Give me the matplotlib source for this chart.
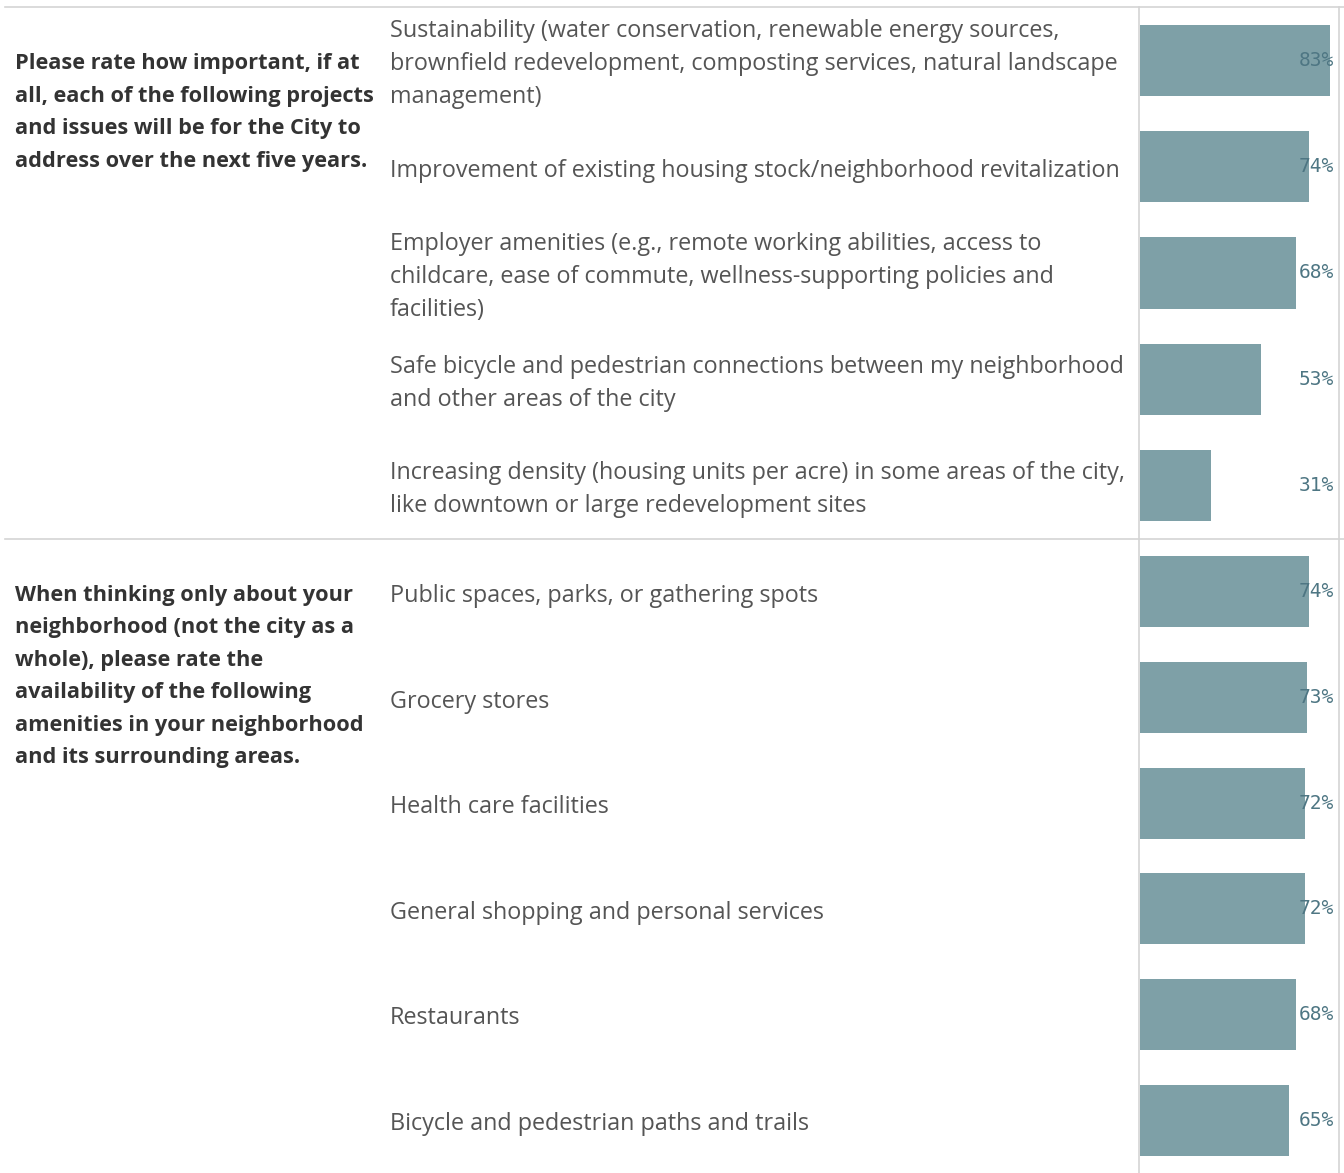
import matplotlib.pyplot as plt
import matplotlib.transforms as mtransforms

# Survey results, two question blocks
question_1 = ("Please rate how important, if at\nall, each of the following projects\n"
              "and issues will be for the City to\naddress over the next five years.")
items_1 = [
    "Sustainability (water conservation, renewable energy sources,\nbrownfield redevelopment, composting services, natural landscape\nmanagement)",
    "Improvement of existing housing stock/neighborhood revitalization",
    "Employer amenities (e.g., remote working abilities, access to\nchildcare, ease of commute, wellness-supporting policies and\nfacilities)",
    "Safe bicycle and pedestrian connections between my neighborhood\nand other areas of the city",
    "Increasing density (housing units per acre) in some areas of the city,\nlike downtown or large redevelopment sites",
]
values_1 = [83, 74, 68, 53, 31]

question_2 = ("When thinking only about your\nneighborhood (not the city as a\nwhole), please rate the\n"
              "availability of the following\namenities in your neighborhood\nand its surrounding areas.")
items_2 = [
    "Public spaces, parks, or gathering spots",
    "Grocery stores",
    "Health care facilities",
    "General shopping and personal services",
    "Restaurants",
    "Bicycle and pedestrian paths and trails",
]
values_2 = [74, 73, 72, 72, 68, 65]

W, H = 1344, 1173
BAR_COLOR = "#7ea0a7"
LABEL_COLOR = "#4e7683"
LINE_COLOR = "#d4d4d4"
SANS = "Open Sans"

fig = plt.figure(figsize=(W / 100, H / 100), dpi=100)
fig.patch.set_facecolor("white")

x_bar0, x_bar1 = 1140, 1339
x_max = (x_bar1 - x_bar0) / 2.289  # percent range shown in the bar column


def px_offset(dy):
    return mtransforms.ScaledTranslation(0, dy / 100, fig.dpi_scale_trans)


def draw_block(top, bottom, question, items, values):
    ax = fig.add_axes([x_bar0 / W, 1 - bottom / H, (x_bar1 - x_bar0) / W, (bottom - top) / H])
    n = len(values)
    pos = list(range(n))
    ax.barh(pos, values, height=0.67, color=BAR_COLOR, zorder=2)
    ax.set_xlim(0, x_max)
    ax.set_ylim(n - 0.5, -0.5)
    ax.axis("off")

    fig_x = mtransforms.blended_transform_factory(fig.transFigure, ax.transData)
    for i, (label, v) in enumerate(zip(items, values)):
        ax.text(390 / W, i, label, transform=fig_x + px_offset(-4), ha="left", va="center",
                fontsize=16.8, color="#555555", family=SANS, linespacing=1.5)
        ax.text(1334 / W, i, f"{v}%", transform=fig_x, ha="right", va="center",
                fontsize=14, color=LABEL_COLOR, family="DejaVu Sans Mono", zorder=3)
    # question text is top-aligned, first line level with the first row
    ax.text(15 / W, 0, question, transform=fig_x + px_offset(7), ha="left", va="top",
            fontsize=15.7, color="#333333", family=SANS, fontweight="bold",
            linespacing=1.72)
    return ax


draw_block(7, 539, question_1, items_1, values_1)
draw_block(539, H, question_2, items_2, values_2)

# table rules
for y in (7, 539):
    fig.add_artist(plt.Line2D([5 / W, 1], [1 - y / H, 1 - y / H], color=LINE_COLOR, lw=1.2,
                              transform=fig.transFigure))
for x in (1139, 1339):
    fig.add_artist(plt.Line2D([x / W, x / W], [0, 1 - 7 / H], color=LINE_COLOR, lw=1.2,
                              transform=fig.transFigure))

fig.savefig("out.png", dpi=100)
